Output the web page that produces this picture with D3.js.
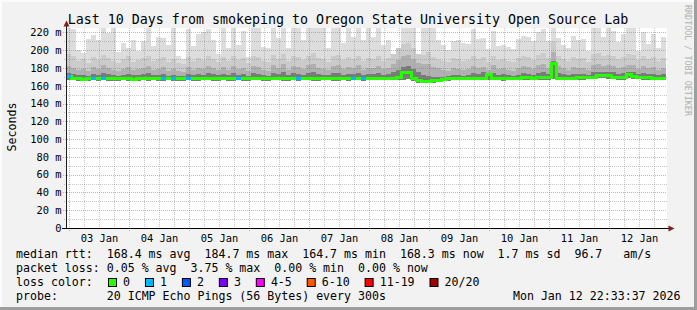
<!DOCTYPE html>
<html>
<head>
<meta charset="utf-8">
<script src="https://cdn.jsdelivr.net/npm/d3@7"></script>
<style>
  body { margin: 0; background: #f2f2f2; }
  text { font-family: "DejaVu Sans Mono", monospace; white-space: pre; }
</style>
</head>
<body>
<script>
var w = 697;
var h = 310;

// 2 hour columns, 10 days back from the graph time
var endTime = new Date(Date.UTC(2026, 0, 12, 22, 33, 37));
var startTime = new Date(Date.UTC(2026, 0, 2, 22, 33, 37));
var stepHours = 2;

// median rtt (ms) per column
var median = [170.5,168.2,168.0,167.6,167.8,168.1,168.0,168.3,167.9,167.7,168.0,168.2,167.8,167.5,168.0,168.1,167.9,168.2,168.0,167.8,168.1,
  168.0,167.7,167.9,168.2,168.0,167.8,168.1,168.3,167.9,168.0,168.2,167.8,168.0,168.1,167.9,168.0,168.2,168.4,168.0,167.9,
  168.1,168.3,168.0,167.9,168.2,168.0,168.1,168.3,168.0,167.8,168.1,168.4,168.0,167.9,168.2,168.0,168.3,168.1,168.0,168.2,
  168.4,168.6,168.5,168.3,168.6,169.0,175.5,175.0,168.5,165.6,164.7,165.0,165.4,166.2,167.5,168.0,168.3,168.1,168.4,168.5,
  168.3,168.2,168.6,172.7,168.2,168.4,168.1,168.3,168.6,168.4,168.8,169.0,168.7,168.9,169.1,168.8,184.7,168.6,168.4,168.7,
  168.5,168.9,169.2,169.5,169.8,171.5,171.6,171.2,169.5,169.0,169.4,172.5,170.5,169.8,169.2,168.8,168.6,168.5,168.3];

// smoke: fastest ping and upper edges of the grey bands (ms)
var minRtt = [166.5,166.0,165.9,165.6,165.8,166.0,165.9,166.1,165.8,165.7,165.9,166.0,165.8,165.5,165.9,166.0,165.8,166.1,165.9,165.7,166.0,
  165.9,165.7,165.8,166.0,165.9,165.7,166.0,166.1,165.8,165.9,166.0,165.7,165.9,166.0,165.8,165.9,166.1,166.2,165.9,165.8,
  166.0,166.1,165.9,165.8,166.0,165.9,166.0,166.1,165.9,165.7,166.0,166.2,165.9,165.8,166.0,165.9,166.1,166.0,165.9,166.0,
  166.2,166.3,166.2,166.1,166.3,166.5,167.0,167.2,165.5,163.4,162.8,163.0,163.3,164.0,165.4,165.9,166.1,166.0,166.2,166.3,
  166.1,166.0,166.3,167.0,166.0,166.2,165.9,166.1,166.3,166.2,166.5,166.7,166.4,166.6,166.8,166.5,168.0,166.4,166.2,166.4,
  166.3,166.6,166.9,167.1,167.4,168.2,168.3,168.0,167.1,166.7,167.0,168.5,167.6,167.3,166.9,166.5,166.3,166.2,166.0];

var maxRtt = [225,224,200,197,213,217,212,225,219,225,198,208,203,212,199,210,225,205,215,214,206,
  225,193,190,224,205,218,220,224,212,196,225,203,225,206,222,192,225,225,204,203,
  225,214,225,202,225,225,211,225,225,225,225,202,225,225,208,225,215,225,212,225,
  215,225,206,212,196,200,225,225,225,196,225,225,225,212,206,200,210,212,208,207,
  224,213,214,201,222,205,206,204,201,213,216,215,210,220,224,210,225,214,206,203,
  216,212,213,199,225,225,215,225,222,209,218,225,225,199,220,207,218,202,215];

var upper2 = [196,194,188,190,186,192,189,195,191,188,186,190,193,187,189,191,194,188,190,192,187,
  190,186,185,192,188,191,189,194,190,187,192,188,193,189,191,186,194,192,188,187,
  195,190,196,188,193,192,189,194,197,191,190,187,193,195,189,192,190,194,188,191,
  190,193,188,191,196,203,207,208,202,196,195,198,192,190,188,187,191,190,188,189,
  193,190,192,187,194,189,190,188,187,191,193,192,189,195,197,191,210,193,190,188,
  192,190,191,187,196,197,193,195,194,190,192,196,195,189,193,190,192,188,191];

var upper3 = [182,180,178,179,177,181,179,183,180,178,177,179,181,178,179,180,182,178,179,181,177,
  179,177,176,181,178,180,179,182,180,178,181,178,182,179,180,177,182,181,178,177,
  183,180,184,178,182,181,179,183,184,180,179,178,182,183,179,181,180,183,178,180,
  180,182,179,180,184,189,194,195,190,186,184,185,181,180,178,177,180,179,178,179,
  182,180,181,178,183,179,180,178,177,180,182,181,179,183,184,180,198,182,180,178,
  181,180,180,178,183,184,182,183,182,180,181,183,183,179,182,180,181,178,180];

var upper4 = [174,173,172,172,171,173,172,174,173,172,171,172,173,172,172,173,174,172,172,173,171,
  172,171,171,173,172,173,172,174,173,172,173,172,174,172,173,171,174,173,172,171,
  174,173,175,172,174,173,172,174,175,173,172,172,174,174,172,173,173,174,172,173,
  173,174,172,173,175,178,181,182,179,175,172,171,170,170,170,171,172,172,171,172,
  174,173,176,172,174,172,173,172,171,172,174,173,172,174,175,173,188,174,173,172,
  173,173,173,172,175,176,176,175,175,173,174,175,176,173,174,173,173,172,173];

// columns with lost pings (count out of 20)
var lossCols = [0, 5, 7, 19, 21, 24, 34, 46, 57, 59];
var lossCounts = [1, 1, 1, 1, 1, 1, 1, 1, 1, 1];

var lossLabels = ['0', '1', '2', '3', '4-5', '6-10', '11-19', '20/20'];
var lossColors = ['#26ff00', '#00b8ff', '#0059ff', '#7e00ff', '#ff00ff', '#ff5500', '#ff0000', '#a10000'];
var smokeColors = ['#dddddd', '#cbcbcb', '#b0b0b0', '#7a7a7a'];

var yTicks = [0, 20, 40, 60, 80, 100, 120, 140, 160, 180, 200, 220];

var svg = d3.select('body').append('svg')
  .attr('width', w)
  .attr('height', h);

// background and 3d frame
svg.append('rect').attr('width', w).attr('height', h).attr('fill', '#f2f2f2');
svg.append('rect').attr('x', 0).attr('y', 0).attr('width', w).attr('height', 2).attr('fill', '#fcfcfc');
svg.append('rect').attr('x', 0).attr('y', 0).attr('width', 2).attr('height', h).attr('fill', '#fcfcfc');
svg.append('rect').attr('x', w - 3).attr('y', 0).attr('width', 3).attr('height', h).attr('fill', '#9e9e9e');
svg.append('rect').attr('x', 0).attr('y', h - 3).attr('width', w).attr('height', 3).attr('fill', '#9e9e9e');

var x = d3.scaleUtc()
  .domain([startTime, endTime])
  .range([66, 666]);

var y = d3.scaleLinear()
  .domain([0, 225])
  .range([228, 28]);

var times = median.map(function (d, i) {
  return d3.utcHour.offset(startTime, i * stepHours);
});

// canvas
svg.append('rect')
  .attr('x', 67).attr('y', 28)
  .attr('width', 600).attr('height', 200)
  .attr('fill', '#ffffff');

svg.append('clipPath').attr('id', 'clip')
  .append('rect').attr('x', 67).attr('y', 28).attr('width', 600).attr('height', 200);

var smoke = svg.append('g').attr('clip-path', 'url(#clip)').attr('shape-rendering', 'crispEdges');
[maxRtt, upper2, upper3, upper4].forEach(function (band, b) {
  smoke.selectAll('.band' + b)
    .data(band)
    .enter()
    .append('rect')
    .attr('x', function (d, i) { return x(times[i]); })
    .attr('width', function (d, i) { return x(d3.utcHour.offset(times[i], stepHours)) - x(times[i]); })
    .attr('y', function (d) { return y(d); })
    .attr('height', function (d, i) { return y(minRtt[i]) - y(d); })
    .attr('fill', smokeColors[b]);
});

// grid
var grid = svg.append('g').attr('shape-rendering', 'crispEdges');
var minorY = d3.range(10, 225, 10);
grid.selectAll('.hminor')
  .data(minorY.filter(function (v) { return v % 20 !== 0; }))
  .enter().append('line')
  .attr('x1', 64).attr('x2', 667)
  .attr('y1', function (d) { return Math.round(y(d)) + 0.5; })
  .attr('y2', function (d) { return Math.round(y(d)) + 0.5; })
  .attr('stroke', 'rgba(143,143,143,0.5)')
  .attr('stroke-dasharray', '1,1');

var sixHours = d3.utcHour.every(6).range(startTime, endTime).filter(function (t) { return t.getUTCHours() !== 0; });
grid.selectAll('.vminor')
  .data(sixHours)
  .enter().append('line')
  .attr('x1', function (d) { return Math.floor(x(d)) + 0.5; })
  .attr('x2', function (d) { return Math.floor(x(d)) + 0.5; })
  .attr('y1', 28).attr('y2', 230)
  .attr('stroke', 'rgba(143,143,143,0.5)')
  .attr('stroke-dasharray', '1,1');

grid.selectAll('.hmajor')
  .data(yTicks.slice(1))
  .enter().append('line')
  .attr('x1', 63).attr('x2', 667)
  .attr('y1', function (d) { return Math.round(y(d)) + 0.5; })
  .attr('y2', function (d) { return Math.round(y(d)) + 0.5; })
  .attr('stroke', 'rgba(222,79,79,0.5)')
  .attr('stroke-dasharray', '1,1');

var days = d3.utcDay.range(startTime, endTime);
grid.selectAll('.vmajor')
  .data(days)
  .enter().append('line')
  .attr('x1', function (d) { return Math.floor(x(d)) + 0.5; })
  .attr('x2', function (d) { return Math.floor(x(d)) + 0.5; })
  .attr('y1', 28).attr('y2', 231)
  .attr('stroke', 'rgba(222,79,79,0.5)')
  .attr('stroke-dasharray', '1,1');

// median line, coloured by loss
var medPts = median.concat([median[median.length - 1]]);
var medTimes = times.concat([endTime]);
svg.append('path')
  .attr('d', d3.line()
    .x(function (d, i) { return x(medTimes[i]); })
    .y(function (d) { return y(d); })
    .curve(d3.curveStepAfter)(medPts))
  .attr('fill', 'none')
  .attr('stroke', lossColors[0])
  .attr('stroke-width', 3)
  .attr('shape-rendering', 'crispEdges');

svg.selectAll('.loss')
  .data(lossCols)
  .enter().append('line')
  .attr('x1', function (d) { return x(times[d]); })
  .attr('x2', function (d) { return x(medTimes[d + 1]); })
  .attr('y1', function (d) { return y(median[d]); })
  .attr('y2', function (d) { return y(median[d]); })
  .attr('stroke', function (d, i) { return lossColors[lossCounts[i]]; })
  .attr('stroke-width', 3)
  .attr('shape-rendering', 'crispEdges');

// axes
svg.append('line')
  .attr('x1', 66.5).attr('x2', 66.5).attr('y1', 228).attr('y2', 25)
  .attr('stroke', '#1f1f1f');
svg.append('path')
  .attr('d', 'M63.5,26.5 L69.5,26.5 L66.5,20.5 Z')
  .attr('fill', '#7f1f1f');
svg.append('line')
  .attr('x1', 62).attr('x2', 669).attr('y1', 228.5).attr('y2', 228.5)
  .attr('stroke', '#000000');
svg.append('path')
  .attr('d', 'M668.5,225.5 L668.5,231.5 L674.5,228.5 Z')
  .attr('fill', '#7f1f1f');

var labels = svg.append('g').attr('font-size', '10.4px').attr('fill', '#000');
labels.selectAll('.ylab')
  .data(yTicks)
  .enter().append('text')
  .attr('x', 61.5)
  .attr('y', function (d) { return y(d) + 3.8; })
  .attr('text-anchor', 'end')
  .text(function (d) { return d === 0 ? '0' : d + ' m'; });

labels.selectAll('.xlab')
  .data(days.map(function (d) { return d3.utcHour.offset(d, 12); }).filter(function (d) { return d < endTime; }))
  .enter().append('text')
  .attr('x', function (d) { return x(d); })
  .attr('y', 241.5)
  .attr('text-anchor', 'middle')
  .text(d3.utcFormat('%d %b'));

// titles
svg.append('text')
  .attr('x', 348).attr('y', 24)
  .attr('text-anchor', 'middle')
  .attr('font-size', '13.3px')
  .text('Last 10 Days from smokeping to Oregon State University Open Source Lab');

svg.append('text')
  .attr('transform', 'translate(15.5,127) rotate(-90)')
  .attr('text-anchor', 'middle')
  .attr('font-size', '11.6px')
  .text('Seconds');

svg.append('text')
  .attr('transform', 'translate(684.5,5) rotate(90)')
  .attr('font-size', '8.4px')
  .attr('fill', '#b0b0b0')
  .text('RRDTOOL / TOBI OETIKER');

// legend
var cw = 11.6 * 0.602;
var legend = svg.append('g').attr('font-size', '11.6px').attr('fill', '#000');
legend.append('text').attr('x', 16).attr('y', 258)
  .text('median rtt:  168.4 ms avg  184.7 ms max  164.7 ms min  168.3 ms now  1.7 ms sd  96.7   am/s');
legend.append('text').attr('x', 16).attr('y', 272)
  .text('packet loss: 0.05 % avg  3.75 % max  0.00 % min  0.00 % now');
legend.append('text').attr('x', 16).attr('y', 286)
  .text('loss color:');
legend.append('text').attr('x', 16).attr('y', 300)
  .text('probe:       20 ICMP Echo Pings (56 Bytes) every 300s');
legend.append('text').attr('x', 680.5).attr('y', 300)
  .attr('text-anchor', 'end')
  .text('Mon Jan 12 22:33:37 2026');

var boxX = 108.5;
lossLabels.forEach(function (lab, i) {
  legend.append('rect')
    .attr('x', boxX).attr('y', 278.5)
    .attr('width', 8).attr('height', 8)
    .attr('fill', lossColors[i])
    .attr('stroke', '#000');
  legend.append('text').attr('x', boxX + 14.6).attr('y', 286).text(lab);
  boxX += (lab.length + 2) * cw + 16;
});
</script>
</body>
</html>
